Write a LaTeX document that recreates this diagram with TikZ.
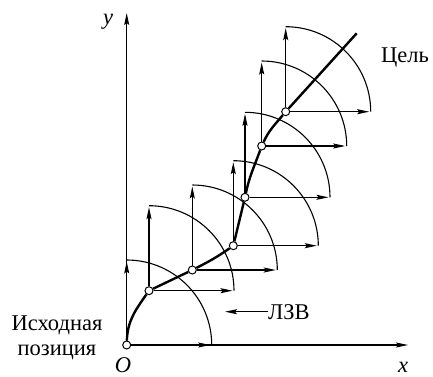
\documentclass[tikz,border=0pt]{standalone}
\usepackage{fontspec}
\setmainfont{Liberation Serif}
\usetikzlibrary{arrows.meta,backgrounds}
\tikzset{
  waypt/.style={draw, circle, fill=white, inner sep=0pt, minimum size=8pt,
              line width=1pt},
  vec/.style={-{Stealth[length=12pt,width=5pt,inset=2pt]}, line width=1.1pt,
              shorten >=1.5pt},
  axis/.style={-{Stealth[length=12pt,width=5pt,inset=2pt]}, line width=1.1pt},
  zone/.style={line width=1.1pt},
  track/.style={line width=2.4pt, line join=round},
  lbl/.style={font=\fontsize{22.5}{25}\selectfont, inner sep=0pt},
  varlbl/.style={lbl, font=\fontsize{22.5}{25}\selectfont\itshape},
}
\newcommand{\rzone}{85}

\begin{document}
\begin{tikzpicture}[x=1pt, y=1pt]
  \useasboundingbox (0,0) rectangle (433,376);

  % Positions along the track
  \node[waypt] (p0) at (126.7,31)    {};
  \node[waypt] (p1) at (149,85.3)    {};
  \node[waypt] (p2) at (192.3,106)   {};
  \node[waypt] (p3) at (233.3,130.3) {};
  \node[waypt] (p4) at (245,178.7)   {};
  \node[waypt] (p5) at (261.7,230)   {};
  \node[waypt] (p6) at (285.7,264.3) {};
  \coordinate (goal) at (356.7,342.7);

  % Axes
  \coordinate (xend) at (408,31);
  \coordinate (yend) at (126.7,363);
  \node[varlbl, anchor=south] (xlab) at (403,3.5)  {x};
  \node[varlbl] (ylab) at (108,354)  {y};
  \node[varlbl, anchor=south] (olab) at (123,3.5)  {O};

  % Labels
  \node[lbl] (target) at (405,318) {Цель};
  \node[lbl, align=center] (start) at (57,38.5) {Исходная\\позиция};
  \node[lbl, anchor=west] (lzv) at (268,64.3) {ЛЗВ};
  \coordinate (lzvtip) at (225,64.3);

  \begin{scope}[on background layer]
    \draw[axis] (p0) -- (xend);
    \draw[axis] (p0) -- (yend);
    % Zones of possible moves
    \foreach \i in {0,...,6} {
      \path (p\i.center) ++(0,\rzone) coordinate (u\i) ++(\rzone,-\rzone) coordinate (r\i);
      \draw[zone] (u\i) arc[start angle=90, end angle=0, radius=\rzone];
      \draw[vec] (p\i) -- (u\i);
      \draw[vec] (p\i) -- (r\i);
    }
  \end{scope}

  % Track
  \draw[track] (p0) to[out=88, in=235] (p1) -- (p2)
               to[out=27, in=215] (p3) -- (p4)
               to[out=78, in=250] (p5)
               to[out=65, in=230] (p6) -- (goal);

  \draw[vec, shorten >=0pt] (lzv.west) -- (lzvtip);

\end{tikzpicture}
\end{document}
